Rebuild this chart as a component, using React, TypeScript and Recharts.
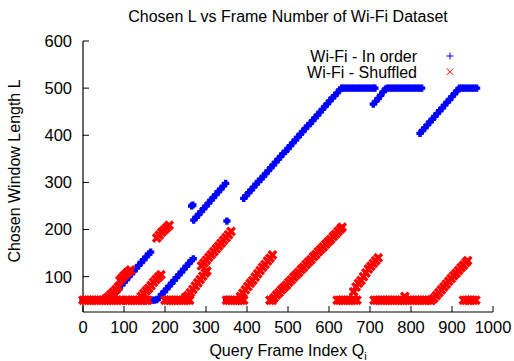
import React from 'react';
import { ScatterChart, Scatter, XAxis, YAxis, Legend, Label } from 'recharts';

// [query frame index Qi, chosen window length L]
const inOrderPoints: [number, number][] = [
  [0, 50], [6, 50], [12, 50], [18, 50], [24, 50], [30, 50], [36, 50], [42, 50], [48, 50], [54, 50], [60, 50],
  [64, 52], [70, 58], [76, 64], [82, 70], [88, 76], [94, 82], [100, 88], [106, 94], [112, 100], [118, 106],
  [124, 112], [130, 118], [136, 124], [142, 130], [148, 136], [154, 142], [160, 148], [165, 152],
  [163, 50], [168, 50], [174, 50], [180, 51], [186, 56], [192, 62], [198, 68], [204, 74], [210, 80], [216, 86],
  [222, 92], [228, 98], [234, 104], [240, 110], [246, 116], [252, 122], [258, 128], [264, 134], [269, 138],
  [265, 250], [268, 252],
  [270, 220], [276, 226], [282, 232], [288, 238], [294, 244], [300, 250], [306, 256], [312, 262], [318, 268],
  [324, 274], [330, 280], [336, 286], [342, 292], [348, 298],
  [351, 218], [350, 52], [355, 50],
  [392, 266], [398, 272], [404, 278], [410, 284], [416, 290], [422, 296], [428, 302], [434, 307], [440, 313],
  [446, 319], [452, 325], [458, 331], [464, 337], [470, 343], [476, 349], [482, 355], [488, 361], [494, 366],
  [500, 372], [506, 378], [512, 384], [518, 390], [524, 396], [530, 402], [536, 408], [542, 414], [548, 420],
  [554, 425], [560, 431], [566, 437], [572, 443], [578, 449], [584, 455], [590, 461], [596, 467], [602, 473],
  [608, 479], [614, 484], [620, 490], [626, 496], [631, 500],
  [636, 500], [642, 500], [648, 500], [654, 500], [660, 500], [666, 500], [672, 500], [678, 500], [684, 500],
  [690, 500], [696, 500], [702, 500], [708, 500], [712, 500],
  [708, 466], [714, 472], [720, 478], [726, 485], [732, 492], [738, 498], [742, 500],
  [748, 500], [754, 500], [760, 500], [766, 500], [772, 500], [778, 500], [784, 500], [790, 500], [796, 500],
  [802, 500], [808, 500], [814, 500], [820, 500], [826, 500],
  [822, 404], [828, 410], [834, 416], [840, 422], [846, 428], [852, 434], [858, 440], [864, 446], [870, 452],
  [876, 458], [882, 464], [888, 470], [894, 476], [900, 482], [906, 488], [912, 494], [918, 500],
  [924, 500], [930, 500], [936, 500], [942, 500], [948, 500], [954, 500], [960, 500],
];

const shuffledPoints: [number, number][] = [
  [0, 50], [6, 50], [12, 50], [18, 50], [24, 50], [30, 50], [36, 50], [42, 50], [48, 50], [54, 50], [60, 50],
  [66, 50], [72, 50], [78, 50], [84, 50], [90, 50], [96, 50],
  [56, 53], [62, 57], [68, 62], [74, 67], [80, 72], [86, 78],
  [90, 92], [95, 97], [100, 102], [105, 106], [110, 110], [116, 114],
  [106, 50], [112, 50], [118, 50], [124, 50], [130, 50], [136, 50], [142, 50], [148, 50], [154, 50], [158, 50],
  [142, 58], [148, 64], [154, 70], [160, 75], [166, 81], [172, 88], [178, 94], [184, 99], [190, 104],
  [180, 182], [186, 188], [192, 194], [198, 199], [204, 204], [210, 209],
  [200, 50], [206, 50], [212, 50], [218, 50], [224, 50], [230, 50], [236, 50], [242, 50], [248, 50], [254, 50], [260, 50],
  [250, 56], [256, 60], [262, 66], [268, 73], [274, 80], [280, 87], [286, 94], [292, 101], [298, 108], [302, 112],
  [289, 123], [295, 129], [301, 135], [307, 141], [313, 147], [319, 153], [325, 159], [331, 165], [337, 171],
  [343, 177], [349, 183], [355, 189], [361, 196],
  [350, 50], [356, 50], [362, 50], [368, 50], [374, 50], [380, 50], [386, 50], [392, 50],
  [384, 58], [390, 65], [396, 72], [402, 79], [408, 86], [414, 92], [420, 99], [426, 106], [432, 113],
  [438, 120], [444, 126], [450, 133], [456, 139], [462, 146],
  [456, 50], [462, 50], [466, 55], [472, 61], [478, 66], [484, 72], [490, 77], [496, 82], [502, 88], [508, 93],
  [514, 99], [520, 104], [526, 109], [532, 115], [538, 120], [544, 126], [550, 131], [556, 136], [562, 142],
  [568, 147], [574, 153], [580, 158], [586, 163], [592, 169], [598, 174], [604, 179], [610, 185], [616, 190],
  [622, 196], [628, 201], [632, 205],
  [620, 50], [626, 50], [632, 50], [638, 50], [644, 50], [650, 50], [656, 50], [662, 50], [668, 50],
  [660, 68], [666, 78], [672, 86], [678, 92], [684, 100], [690, 108], [696, 116], [702, 122], [708, 128],
  [714, 134], [720, 140],
  [710, 50], [716, 50], [722, 50], [728, 50], [734, 50], [740, 50], [746, 50], [752, 50], [758, 50], [764, 50],
  [770, 50], [776, 50], [782, 50], [785, 58], [788, 50], [794, 50], [800, 50], [806, 50], [812, 50], [818, 50],
  [824, 50], [830, 50], [836, 50], [842, 50], [848, 50],
  [850, 50], [856, 54], [862, 60], [868, 66], [874, 72], [880, 78], [886, 84], [892, 90], [898, 96], [904, 102],
  [910, 107], [916, 113], [922, 119], [928, 124], [934, 130], [938, 134],
  [928, 50], [934, 50], [940, 50], [946, 50], [952, 50], [958, 50],
];

const xTicks = [0, 100, 200, 300, 400, 500, 600, 700, 800, 900, 1000];
const yTicks = [100, 200, 300, 400, 500, 600];

const FONT = '"Liberation Sans", Arial, Helvetica, sans-serif';
const FS = 16;
const BLUE = '#0000ff';
const RED = '#ff0000';

const toRows = (pts: [number, number][]) => pts.map(([q, L]) => ({ q, L }));
const inOrderData = toRows(inOrderPoints);
const shuffledData = toRows(shuffledPoints);

const PlusMark = ({ cx, cy, sw = 3.4, s = 3.6 }: any) => (
  <path
    d={`M${cx - s},${cy}H${cx + s}M${cx},${cy - s}V${cy + s}`}
    stroke={BLUE}
    strokeWidth={sw}
    fill='none'
  />
);

const CrossMark = ({ cx, cy, sw = 3.4, s = 3.8 }: any) => (
  <path
    d={`M${cx - s},${cy - s}L${cx + s},${cy + s}M${cx - s},${cy + s}L${cx + s},${cy - s}`}
    stroke={RED}
    strokeWidth={sw}
    fill='none'
  />
);

const textStyle = { fontFamily: FONT, fontSize: FS, fill: '#000' };
const tickStyle = { fontFamily: FONT, fontSize: 16.5, fill: '#000' };

const renderLegend = () => (
  <svg width={220} height={45} style={{ display: 'block' }}>
    <text x={167} y={21.5} textAnchor='end' style={textStyle}>
      Wi-Fi - In order
    </text>
    <PlusMark cx={200} cy={16} sw={1} s={3.5} />
    <text x={167} y={38} textAnchor='end' style={textStyle}>
      Wi-Fi - Shuffled
    </text>
    <CrossMark cx={200} cy={31.7} sw={1} s={3.3} />
  </svg>
);

const renderTitle = () => (
  <text x={288} y={21.5} textAnchor='middle' style={textStyle}>
    Chosen L vs Frame Number of Wi-Fi Dataset
  </text>
);

const renderXLabel = () => (
  <text x={288} y={356} textAnchor='middle' style={textStyle}>
    Query Frame Index Q
    <tspan dy={4} fontSize={11}>i</tspan>
  </text>
);

const renderYLabel = () => (
  <text
    x={20}
    y={171}
    textAnchor='middle'
    transform='rotate(-90, 20, 171)'
    style={textStyle}
  >
    Chosen Window Length L
  </text>
);

const axisProps = {
  stroke: '#000',
  axisLine: { stroke: '#000', strokeWidth: 1.2 },
  tickLine: { stroke: '#000', strokeWidth: 1 },
  tickSize: -6,
  interval: 0 as const,
};

export default function App() {
  return (
    <div
      style={{
        position: 'absolute',
        left: 0,
        top: 0,
        width: 514,
        height: 361,
        background: '#fff',
      }}
    >
      <ScatterChart
        width={514}
        height={361}
        margin={{ top: 41, right: 21, bottom: 0, left: 0 }}
      >
        <XAxis
          xAxisId='b'
          type='number'
          dataKey='q'
          domain={[0, 1000]}
          ticks={xTicks}
          orientation='bottom'
          height={49}
          tickMargin={15}
          tick={tickStyle}
          {...axisProps}
        >
          <Label content={renderXLabel} />
        </XAxis>
        <XAxis
          xAxisId='t'
          type='number'
          dataKey='q'
          domain={[0, 1000]}
          ticks={xTicks}
          orientation='top'
          height={0}
          tickFormatter={() => ''}
          {...axisProps}
        />
        <YAxis
          yAxisId='l'
          type='number'
          dataKey='L'
          domain={[25, 600]}
          ticks={yTicks}
          allowDataOverflow
          width={83}
          tickMargin={17}
          tick={tickStyle}
          {...axisProps}
        >
          <Label content={renderYLabel} />
          <Label content={renderTitle} />
        </YAxis>
        <YAxis
          yAxisId='r'
          type='number'
          dataKey='L'
          orientation='right'
          domain={[25, 600]}
          ticks={yTicks}
          allowDataOverflow
          width={0}
          tickFormatter={() => ''}
          {...axisProps}
        />
        <Scatter
          name='Wi-Fi - In order'
          xAxisId='b'
          yAxisId='l'
          data={inOrderData}
          shape={(p: any) => <PlusMark cx={p.cx} cy={p.cy} />}
          isAnimationActive={false}
        />
        <Scatter
          name='Wi-Fi - Shuffled'
          xAxisId='b'
          yAxisId='l'
          data={shuffledData}
          shape={(p: any) => <CrossMark cx={p.cx} cy={p.cy} />}
          isAnimationActive={false}
        />
        <Legend
          content={renderLegend}
          layout='vertical'
          align='center'
          verticalAlign='middle'
          wrapperStyle={{ top: 40, left: 250, width: 220, height: 45 }}
        />
      </ScatterChart>
    </div>
  );
}
